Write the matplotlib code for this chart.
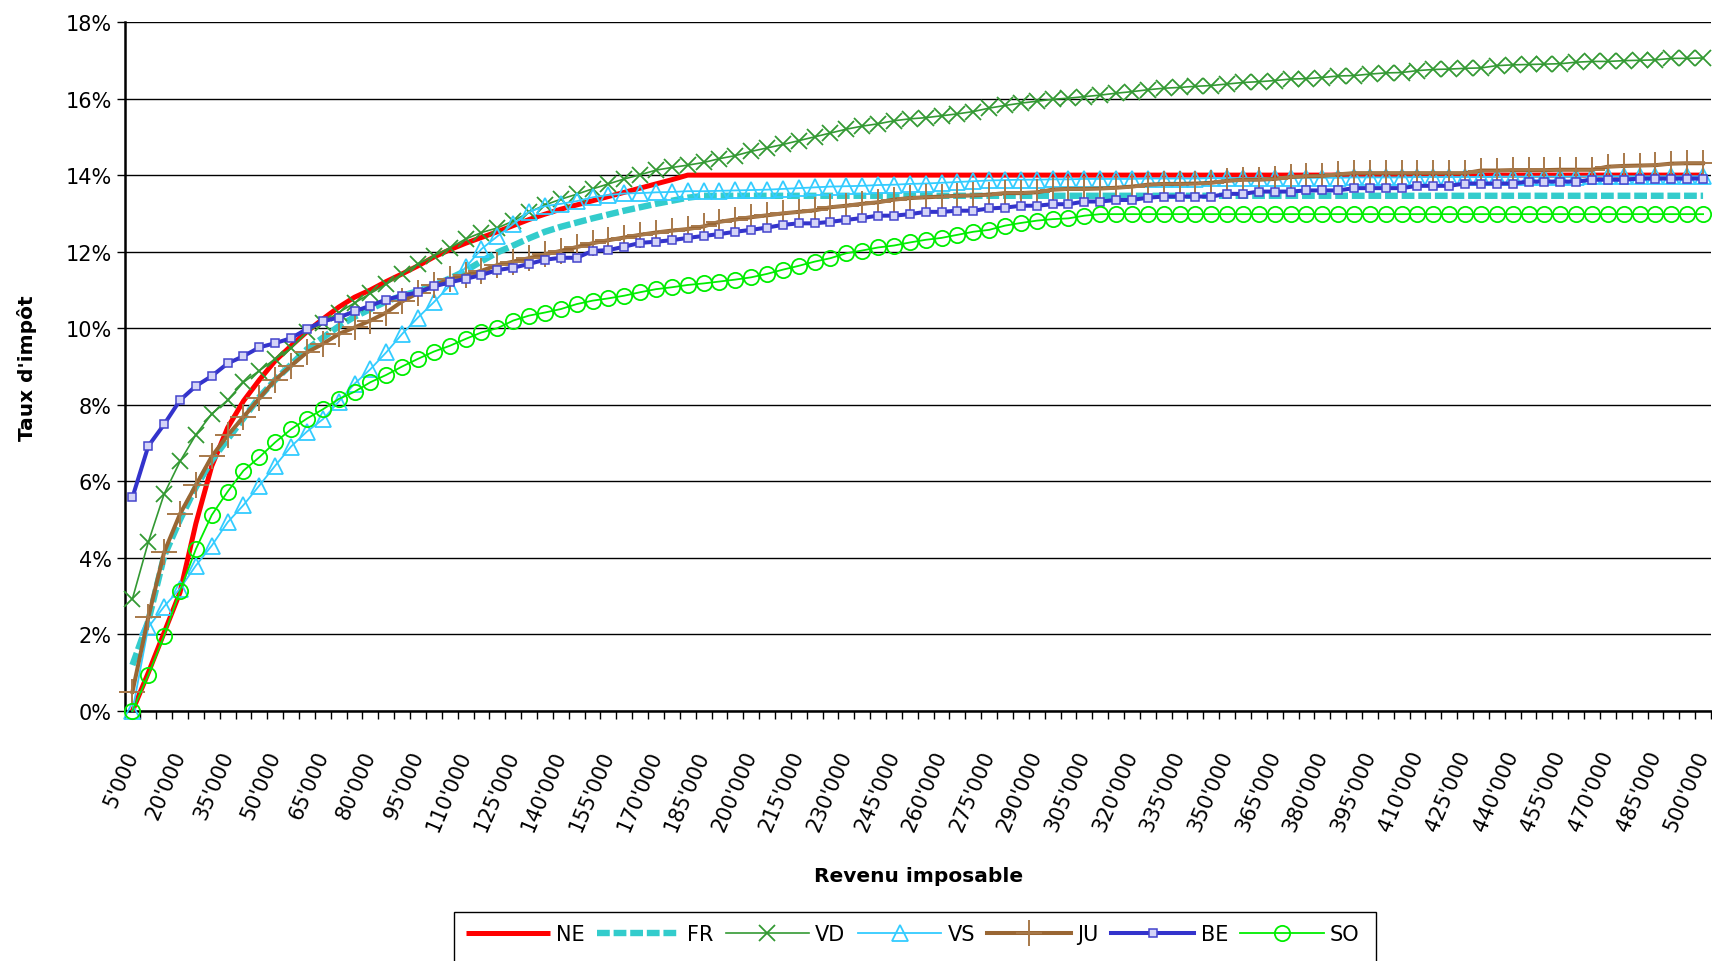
import numpy as np
import matplotlib
matplotlib.use("Agg")
import matplotlib.pyplot as plt
from matplotlib.patches import Rectangle

# ---------------- data ----------------
incomes = list(range(5000, 500001, 5000))

ne = [0.0, 1.0, 2.05, 3.1, 4.9, 6.4, 7.4, 8.1, 8.65, 9.15,
      9.54, 9.91, 10.24, 10.55, 10.81, 11.0, 11.22, 11.42, 11.63, 11.86,
      12.05, 12.22, 12.37, 12.52, 12.68, 12.84, 12.98, 13.11, 13.22, 13.33,
      13.44, 13.55, 13.66, 13.77, 13.88] + [14.0] * 65

fr = [1.2, 2.35, 4.05, 5.0, 5.85, 6.55, 7.1, 7.65, 8.2, 8.65,
      9.05, 9.45, 9.75, 10.05, 10.3, 10.5, 10.7, 10.85, 10.97, 11.12,
      11.3, 11.5, 11.75, 11.98, 12.16, 12.35, 12.52, 12.65, 12.76, 12.87,
      12.97, 13.07, 13.16, 13.25, 13.33, 13.41] + [13.46] * 64

vd = [2.93, 4.41, 5.67, 6.52, 7.22, 7.76, 8.12, 8.59, 8.89, 9.2,
      9.48, 9.91, 10.14, 10.41, 10.66, 10.91, 11.15, 11.42, 11.68, 11.89,
      12.1, 12.33, 12.5, 12.62, 12.8, 13.03, 13.22, 13.37, 13.5, 13.64,
      13.77, 13.9, 14.01, 14.13, 14.2, 14.26, 14.33, 14.43, 14.51, 14.62,
      14.71, 14.8, 14.9, 15.0, 15.1, 15.2, 15.28, 15.34, 15.42, 15.47,
      15.5, 15.55, 15.6, 15.66, 15.75, 15.82, 15.88, 15.93, 15.98, 16.01,
      16.05, 16.09, 16.14, 16.18, 16.23, 16.27, 16.29, 16.32, 16.34, 16.38,
      16.42, 16.44, 16.47, 16.51, 16.52, 16.55, 16.59, 16.6, 16.64, 16.67,
      16.68, 16.73, 16.76, 16.77, 16.79, 16.8, 16.86, 16.88, 16.89, 16.9,
      16.91, 16.95, 16.97, 16.97, 16.99, 17.0, 17.01, 17.05, 17.05, 17.06]

vs = [0.0, 2.19, 2.73, 3.2, 3.8, 4.32, 4.93, 5.38, 5.89, 6.41,
      6.91, 7.3, 7.62, 8.08, 8.55, 8.93, 9.37, 9.85, 10.28, 10.68,
      11.11, 11.59, 12.07, 12.4, 12.72, 13.04, 13.19, 13.25, 13.32, 13.42,
      13.48, 13.52, 13.53, 13.55, 13.56, 13.58, 13.58, 13.59, 13.6, 13.61,
      13.62, 13.64, 13.66, 13.68, 13.7, 13.71, 13.72, 13.74, 13.75, 13.77,
      13.78, 13.8, 13.82, 13.84, 13.86, 13.87, 13.88, 13.88, 13.89, 13.89,
      13.9, 13.9, 13.9, 13.9, 13.91, 13.91, 13.91, 13.91, 13.92, 13.92,
      13.92, 13.92, 13.92, 13.93, 13.93, 13.93, 13.93, 13.94, 13.94, 13.94,
      13.94, 13.95, 13.95, 13.95, 13.95, 13.95, 13.96, 13.96, 13.96, 13.96,
      13.96, 13.96, 13.97, 13.97, 13.97, 13.97, 13.97, 13.97, 13.97, 13.97]

ju = [0.5, 2.45, 4.15, 5.15, 5.9, 6.65, 7.2, 7.68, 8.17, 8.65,
      9.02, 9.37, 9.59, 9.85, 10.02, 10.2, 10.41, 10.7, 10.92, 11.12,
      11.28, 11.39, 11.5, 11.65, 11.74, 11.83, 11.93, 12.02, 12.12, 12.22,
      12.3, 12.37, 12.44, 12.5, 12.55, 12.59, 12.66, 12.78, 12.84, 12.9,
      12.95, 13.0, 13.04, 13.08, 13.16, 13.2, 13.25, 13.29, 13.36, 13.4,
      13.42, 13.44, 13.46, 13.47, 13.49, 13.53, 13.53, 13.55, 13.62, 13.64,
      13.64, 13.65, 13.67, 13.7, 13.75, 13.77, 13.77, 13.78, 13.8, 13.85,
      13.88, 13.88, 13.9, 13.95, 13.97, 13.98, 14.02, 14.05, 14.05, 14.05,
      14.05, 14.05, 14.05, 14.05, 14.05, 14.12, 14.12, 14.13, 14.13, 14.13,
      14.14, 14.14, 14.14, 14.22, 14.24, 14.25, 14.26, 14.3, 14.31, 14.31]

be = [5.58, 6.92, 7.49, 8.12, 8.49, 8.75, 9.08, 9.27, 9.5, 9.61,
      9.74, 9.98, 10.18, 10.28, 10.44, 10.59, 10.75, 10.85, 10.94, 11.09,
      11.2, 11.29, 11.39, 11.52, 11.58, 11.68, 11.79, 11.84, 11.84, 12.02,
      12.04, 12.13, 12.23, 12.26, 12.3, 12.36, 12.41, 12.46, 12.52, 12.57,
      12.63, 12.7, 12.74, 12.74, 12.78, 12.83, 12.88, 12.94, 12.94, 12.98,
      13.04, 13.04, 13.07, 13.07, 13.13, 13.15, 13.2, 13.2, 13.24, 13.24,
      13.31, 13.31, 13.35, 13.35, 13.41, 13.44, 13.44, 13.44, 13.44, 13.51,
      13.51, 13.57, 13.57, 13.57, 13.6, 13.6, 13.6, 13.66, 13.66, 13.66,
      13.66, 13.72, 13.72, 13.72, 13.78, 13.78, 13.78, 13.78, 13.83, 13.83,
      13.83, 13.83, 13.88, 13.88, 13.88, 13.91, 13.91, 13.91, 13.91, 13.91]

so = [0.0, 0.94, 1.97, 3.14, 4.23, 5.12, 5.73, 6.28, 6.63, 7.02,
      7.36, 7.64, 7.88, 8.15, 8.34, 8.59, 8.78, 9.0, 9.2, 9.39,
      9.54, 9.72, 9.89, 10.0, 10.2, 10.33, 10.41, 10.5, 10.63, 10.72,
      10.78, 10.85, 10.94, 11.02, 11.07, 11.13, 11.17, 11.22, 11.27, 11.33,
      11.42, 11.53, 11.63, 11.74, 11.83, 11.96, 12.03, 12.11, 12.16, 12.24,
      12.31, 12.36, 12.44, 12.52, 12.57, 12.68, 12.75, 12.81, 12.85, 12.87,
      12.94] + [12.98] * 39

y_ticks = list(range(0, 19, 2))
x_label_step = 3

# ---------------- figure ----------------
W, H = 1712, 962
fig = plt.figure(figsize=(W / 100, H / 100), dpi=100)
plt.rcParams['font.family'] = ['DejaVu Sans']

left, right, top, bottom = 124.5, 1711, 23, 712
ax = fig.add_axes([left / W, 1 - bottom / H, (right - left) / W, (bottom - top) / H])

x = np.arange(len(incomes))

common = dict(clip_on=False)
l_ne, = ax.plot(x, ne, color='#FF0000', lw=3.6, label='NE', solid_capstyle='butt', **common)
l_fr, = ax.plot(x, fr, color='#33CCCC', lw=4.6, label='FR', **common)
l_fr.set_dashes((2.0, 0.6))
l_vd, = ax.plot(x, vd, color='#339933', lw=1.2, marker='x', ms=12, mew=1.3, label='VD', **common)
l_vs, = ax.plot(x, vs, color='#33CCFF', lw=1.3, marker='^', ms=11, mew=1.3,
                mfc='none', mec='#33CCFF', label='VS', **common)
l_ju, = ax.plot(x, ju, color='#996633', lw=2.9, marker='+', ms=19, mew=1.4,
                mec='#A8794A', label='JU', **common)
l_be, = ax.plot(x, be, color='#3333CC', lw=2.9, marker='s', ms=5.5, mew=1.1,
                mfc='#D4D4F7', mec='#4444CC', label='BE', **common)
l_so, = ax.plot(x, so, color='#00EE00', lw=1.3, marker='o', ms=11, mew=1.3,
                mfc='none', mec='#00EE00', label='SO', **common)

ax.set_xlim(-0.5, len(incomes) - 0.5)
ax.set_ylim(0, 18)

ax.set_yticks(y_ticks)
ax.set_yticklabels([f"{v}%" for v in y_ticks])
ax.yaxis.grid(True, color='black', lw=1.0)
ax.set_axisbelow(True)

major = list(range(0, len(incomes), x_label_step))
ax.set_xticks(major)
ax.set_xticklabels([f"{incomes[i]:,}".replace(',', "'") for i in major],
                   rotation=67, ha='right', va='center', rotation_mode='anchor')
ax.set_xticks(np.arange(-0.5, len(incomes), 1), minor=True)
ax.tick_params(axis='x', which='major', length=0, pad=29, labelsize=15)
ax.tick_params(axis='x', which='minor', length=6, width=1.0, direction='out', color='black')
ax.tick_params(axis='y', length=6, width=1.0, direction='out', pad=3, labelsize=15)

for s in ['top', 'right']:
    ax.spines[s].set_visible(False)
for s in ['left', 'bottom']:
    ax.spines[s].set_linewidth(1.8)
    ax.spines[s].set_color('black')
    ax.spines[s].set_zorder(0.5)

fig.text(27 / W, 1 - 368 / H, "Taux d'impôt", rotation=90, ha='center', va='center',
         fontsize=14.5, fontweight='bold')
fig.text(919 / W, 1 - 876 / H, "Revenu imposable", ha='center', va='center',
         fontsize=14.5, fontweight='bold')

leg = fig.legend(handles=[l_ne, l_fr, l_vd, l_vs, l_ju, l_be, l_so], ncol=7, loc='center',
                 bbox_to_anchor=(913 / W, 1 - 935 / H), bbox_transform=fig.transFigure,
                 frameon=False, fontsize=15, handlelength=4.0, handletextpad=0.3,
                 columnspacing=0.6, numpoints=1)
fig.patches.append(Rectangle((454 / W, -0.05), (1376 - 454) / W, (1 - 912.8 / H) + 0.05,
                             transform=fig.transFigure, fill=False, ec='black', lw=1.0))

fig.savefig('out.png', dpi=100)
